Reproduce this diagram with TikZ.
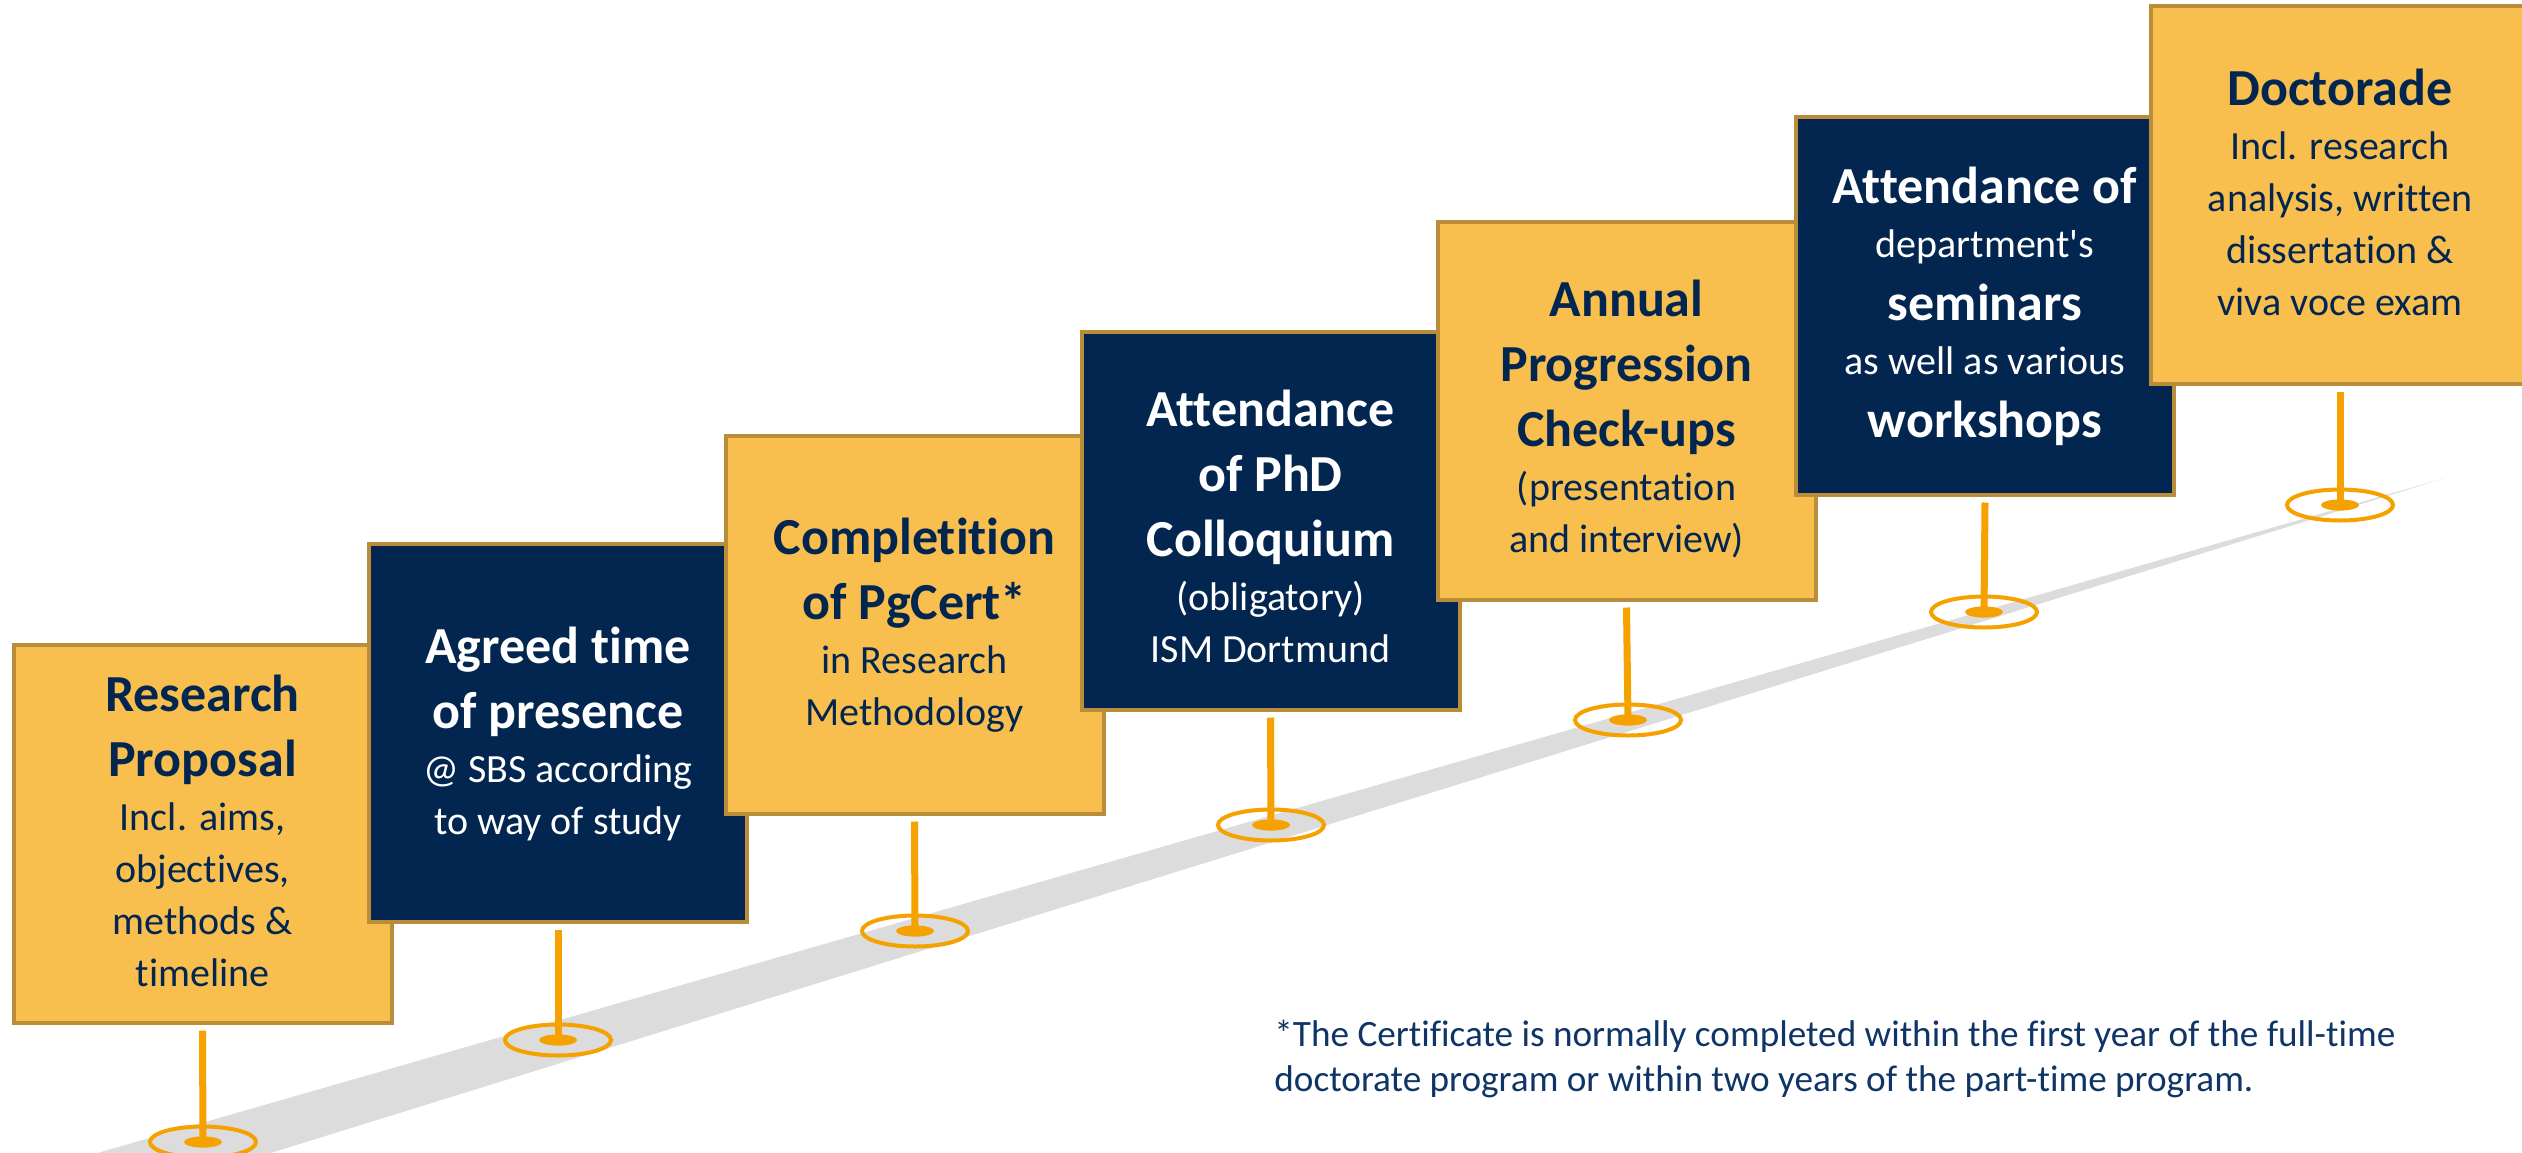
\documentclass[tikz,border=0pt]{standalone}
\usepackage{fontspec}
\setmainfont{Carlito}[Ligatures={TeX,NoCommon}]
\usetikzlibrary{shapes.geometric}
\definecolor{navy}{HTML}{02264F}
\definecolor{gold}{HTML}{F8BE4E}
\definecolor{goldline}{HTML}{B98D3A}
\definecolor{poleorange}{HTML}{F5A100}
\definecolor{roadgray}{HTML}{DCDCDC}
\definecolor{notecol}{HTML}{0F3566}
\newcommand\BL[1]{\fontsize{26}{30}\selectfont\bfseries\rule{0pt}{23.5pt}\rule[-9pt]{0pt}{9pt}#1}
\newcommand\NL[1]{\fontsize{20}{24}\selectfont\rule{0pt}{18pt}\rule[-8pt]{0pt}{8pt}#1}
\newcommand\stacktext[2][0pt]{\vbox{\offinterlineskip\kern#1\halign{\hfil##\hfil\cr#2\crcr}}}
\tikzset{
  card/.style={rectangle, draw=goldline, line width=2pt, minimum width=189pt, minimum height=189pt, inner sep=0pt},
  yellowcard/.style={card, fill=gold, text=navy},
  navycard/.style={card, fill=navy, text=white},
  ring/.style={ellipse, draw=poleorange, line width=2pt, minimum width=53pt, minimum height=15.5pt, inner sep=0pt},
  pole/.style={draw=poleorange, line width=3.5pt},
  note/.style={anchor=north west, align=left, text=notecol, font=\fontsize{18.6}{22.5}\selectfont, inner sep=0pt}
}
\begin{document}
\begin{tikzpicture}[x=0.5pt,y=-0.5pt]
\clip (0,0) rectangle (2522,1152);
\fill[white] (0,0) rectangle (2522,1152);
% road
\fill[roadgray] (0,1181) -- (2445,478) -- (0,1237) -- cycle;
% boxes
\node[yellowcard] (b1) at (202.5,833.5) {\stacktext{\BL{Research}\cr\BL{Proposal}\cr\NL{Incl. aims,}\cr\NL{objectives,}\cr\NL{methods \&}\cr\NL{timeline}}};
\node[navycard] (b2) at (558,733) {\stacktext{\BL{Agreed time}\cr\BL{of presence}\cr\NL{@ SBS according}\cr\NL{to way of study}}};
\node[yellowcard] (b3) at (914.5,624.5) {\stacktext{\BL{Completition}\cr\BL{of PgCert*}\cr\NL{in Research}\cr\NL{Methodology}}};
\node[navycard] (b4) at (1270.5,520.5) {\stacktext[8pt]{\BL{Attendance}\cr\BL{of PhD}\cr\BL{Colloquium}\cr\NL{(obligatory)}\cr\NL{ISM Dortmund}}};
\node[yellowcard] (b5) at (1626.5,410.5) {\stacktext[8pt]{\BL{Annual}\cr\BL{Progression}\cr\BL{Check-ups}\cr\NL{(presentation}\cr\NL{and interview)}}};
\node[navycard] (b6) at (1985,305.5) {\stacktext{\BL{Attendance of}\cr\NL{department\textquotesingle s}\cr\BL{seminars}\cr\NL{as well as various}\cr\BL{workshops}}};
\node[yellowcard] (b7) at (2340,195) {\stacktext{\BL{Doctorade}\cr\NL{Incl. research}\cr\NL{analysis, written}\cr\NL{dissertation \&}\cr\NL{viva voce exam}}};
% base rings
\node[ring] (e1) at (203,1142) {};
\node[ring] (e2) at (558,1040) {};
\node[ring] (e3) at (915,931) {};
\node[ring] (e4) at (1271,825) {};
\node[ring] (e5) at (1628,720) {};
\node[ring] (e6) at (1984,612) {};
\node[ring] (e7) at (2340,505) {};
% poles
\foreach \i in {1,...,7}{
  \draw[pole] ([yshift=-3pt]b\i.south) -- (e\i.center);
  \fill[poleorange] (e\i.center) ellipse [x radius=9.5pt, y radius=2.8pt];
}
% footnote
\node[note] (fn) at (1274,1020) {*The Certificate is normally completed within the first year of the full-time\\doctorate program or within two years of the part-time program.};
\end{tikzpicture}
\end{document}
